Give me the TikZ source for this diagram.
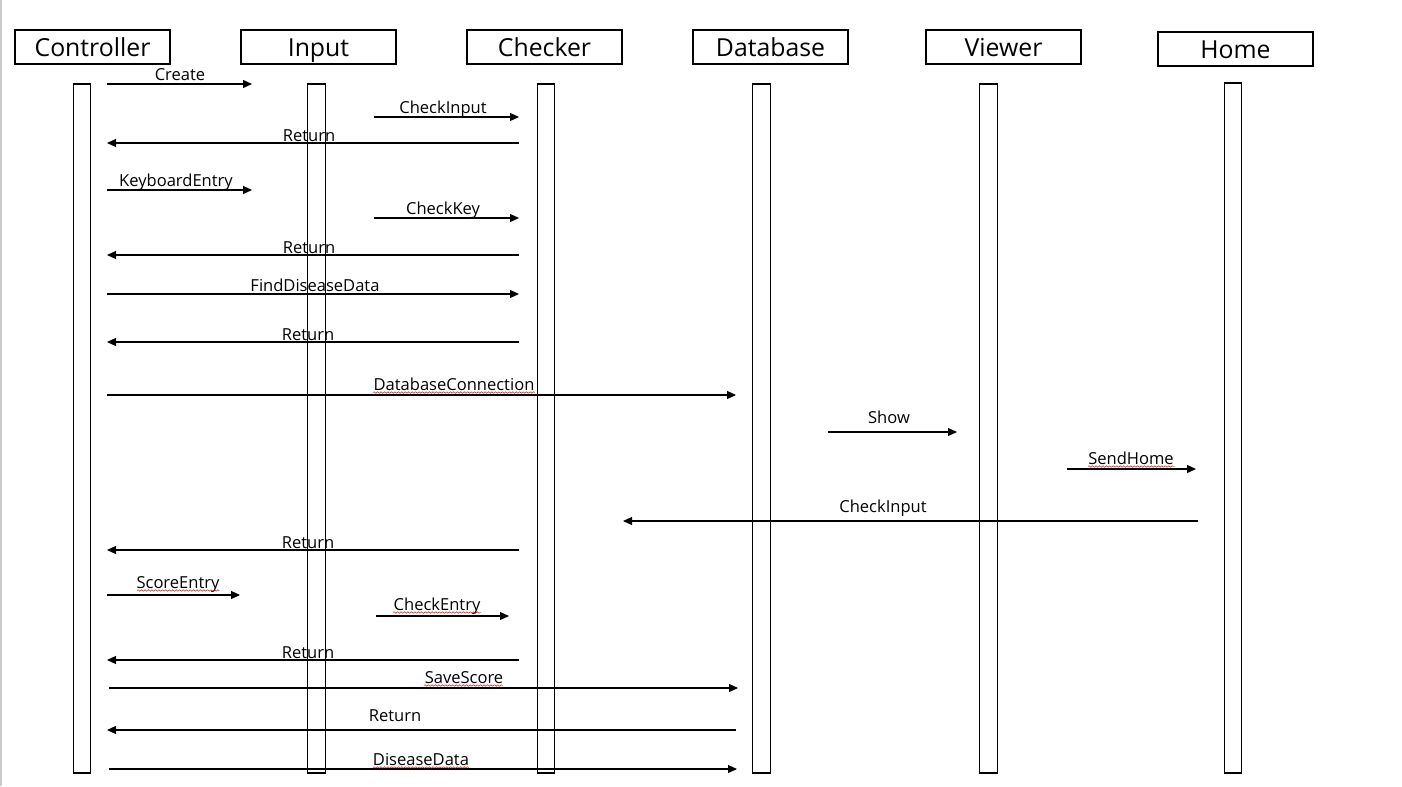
\documentclass[tikz,border=0pt]{standalone}
\usepackage{fontspec}
\setmainfont{Open Sans}
\usetikzlibrary{arrows.meta,decorations.pathmorphing}
\newcommand\seqmsg[7]{%
  \coordinate (#1s) at (#2,#4);
  \coordinate (#1e) at (#3,#4);
  \draw[msgline] (#1s) -- (#1e);
  \node[lbl] (#1t) at (#5,#6) {#7};}
\newcommand\squig[3]{\draw[squigline] (#1,#3) -- (#2,#3);}
\tikzset{
  header/.style={draw, line width=0.9pt, minimum width=116.25pt, minimum height=25.5pt,
    inner sep=0pt, text height=14.25pt, text depth=0pt, font=\fontsize{18.6}{20}\selectfont},
  life/.style={draw, line width=0.9pt, minimum width=13pt, minimum height=516.75pt, inner sep=0pt},
  msgline/.style={line width=0.9pt, -{Triangle[length=6.75pt,width=6pt]}},
  lbl/.style={anchor=base, inner sep=0pt, font=\fontsize{12.4}{14}\selectfont},
  squigline/.style={red!85!black, line width=0.35pt, decorate,
    decoration={snake, amplitude=0.55pt, segment length=2.6pt}}
}
\begin{document}
\begin{tikzpicture}[x=0.75pt,y=-0.75pt]
\useasboundingbox (0,0) rectangle (1402,786);
\fill[white] (0,0) rectangle (1402,786);
\draw[black!20, line width=1.5pt] (1,0) -- (1,786);
% headers
\node[header] (hc) at (92.5,47) {Controller};
\node[header] (hi) at (318.5,47) {Input};
\node[header] (hk) at (544.5,47) {Checker};
\node[header] (hd) at (770.5,47) {Database};
\node[header] (hv) at (1003.5,47) {Viewer};
\node[header] (hh) at (1235.5,49) {Home};
% lifelines
\node[life] (lc) at (82,428.5) {};
\node[life] (li) at (316.5,428.5) {};
\node[life] (lk) at (546,428.5) {};
\node[life] (ld) at (761.5,428.5) {};
\node[life] (lv) at (988.5,428.5) {};
\node[life, minimum height=517.5pt] (lh) at (1233,428) {};
% messages
\seqmsg{m1}{107}{252}{84}{180}{80}{Create}
\seqmsg{m2}{374}{519}{117}{443}{113}{CheckInput}
\seqmsg{m3}{519}{107}{143}{309}{141}{Return}
\seqmsg{m4}{107}{252}{190}{176}{186}{KeyboardEntry}
\seqmsg{m5}{374}{519}{218}{443}{214}{CheckKey}
\seqmsg{m6}{519}{107}{255}{309}{253}{Return}
\seqmsg{m7}{107}{519}{294}{315}{291}{FindDiseaseData}
\seqmsg{m8}{519}{107}{342}{308}{340}{Return}
\seqmsg{m9}{107}{736}{395}{454}{390}{DatabaseConnection}
\seqmsg{m10}{828}{957}{432}{889}{423}{Show}
\seqmsg{m11}{1067}{1196}{469}{1131}{464}{SendHome}
\seqmsg{m12}{1198}{623}{521}{883}{512}{CheckInput}
\seqmsg{m13}{519}{107}{550}{308}{548}{Return}
\seqmsg{m14}{107}{240}{595}{178}{588}{ScoreEntry}
\seqmsg{m15}{376}{509}{616}{437}{610}{CheckEntry}
\seqmsg{m16}{519}{107}{660}{308}{658}{Return}
\seqmsg{m17}{109}{738}{688}{464}{683}{SaveScore}
\seqmsg{m18}{736}{107}{730}{395}{721}{Return}
\seqmsg{m19}{109}{737}{769}{421}{765}{DiseaseData}
% spell-check squiggles
\squig{373}{535}{392.5}
\squig{1088}{1175}{466.5}
\squig{137}{220}{590.5}
\squig{393}{481}{612.5}
\squig{424}{503}{685.5}
\squig{373}{469}{767.5}
\end{tikzpicture}
\end{document}
